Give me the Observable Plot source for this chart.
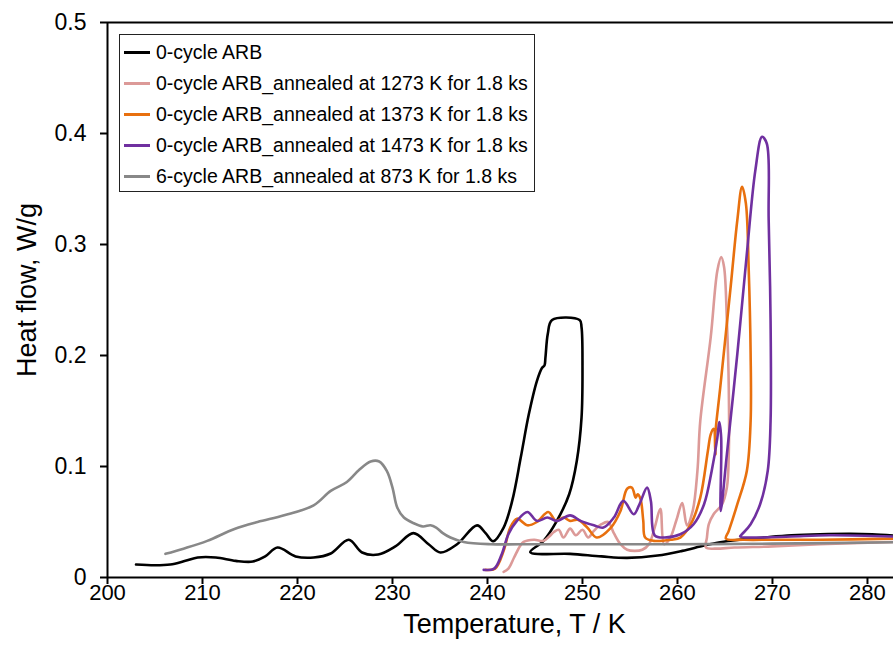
<!DOCTYPE html>
<html><head><meta charset="utf-8">
<script src="https://cdn.jsdelivr.net/npm/d3@7"></script>
<script src="https://cdn.jsdelivr.net/npm/@observablehq/plot@0.6"></script>
<style>
body{margin:0;background:#fff;font-family:"Liberation Sans",Arial,sans-serif;}
#wrap{position:relative;width:893px;height:662px;overflow:hidden;}
#legend{position:absolute;left:119px;top:34px;width:414px;height:156px;border:1.5px solid #222;background:#fff;}
.row{position:absolute;left:0;height:31px;display:flex;align-items:center;font-size:19.5px;color:#000;white-space:nowrap;}
.sw{width:26px;height:3px;margin-left:4px;margin-right:6px;}
</style></head><body><div id="wrap"><div id="chart"></div><div id="legend"></div></div>
<script>
// ---- data ----
const seriesNames = [
  "0-cycle ARB",
  "0-cycle ARB_annealed at 1273 K for 1.8 ks",
  "0-cycle ARB_annealed at 1373 K for 1.8 ks",
  "0-cycle ARB_annealed at 1473 K for 1.8 ks",
  "6-cycle ARB_annealed at 873 K for 1.8 ks"
];
const seriesColors = ["#000000", "#dc9a98", "#e8700e", "#7030a0", "#888888"];

const arbT = [203.0,205.0,206.6,208.2,209.5,211.4,213.5,215.3,216.6,217.9,219.8,221.7,223.5,225.4,226.8,228.5,230.3,232.2,233.8,235.05,236.8,238.9,239.8,240.6,241.7,242.6,243.5,244.35,245.2,245.75,246.0,246.1,246.35,246.8,249.7,249.9,250.0,249.9,249.4,248.6,247.3,245.9,244.5,248.7,252.0,254.7,257.9,260.5,262.8,264.5,266.5,269.4,272.0,275.0,278.2,280.5,282.7];
const arbH = [0.0117,0.011,0.0117,0.015,0.018,0.018,0.015,0.0144,0.019,0.027,0.019,0.018,0.0216,0.034,0.0225,0.0207,0.028,0.040,0.030,0.0225,0.030,0.047,0.040,0.0327,0.045,0.069,0.108,0.147,0.177,0.189,0.191,0.198,0.2196,0.232,0.232,0.2255,0.189,0.144,0.105,0.075,0.051,0.033,0.0228,0.0213,0.019,0.0177,0.0198,0.024,0.0288,0.0318,0.034,0.0363,0.038,0.039,0.0394,0.039,0.0378];

const a1273T = [241.7,242.2,242.8,243.4,243.8,244.9,245.9,246.5,247.0,247.5,248.0,248.7,249.3,250.0,250.6,251.2,252.0,252.7,253.3,254.0,254.7,255.5,256.3,257.0,257.6,258.2,258.6,259.2,259.9,260.5,261.0,261.6,262.1,262.4,263.5,264.2,264.6,264.9,265.2,265.4,265.4,265.2,264.7,263.8,263.3,263.1,263.0,264.0,266.0,270.0,275.0,282.7];
const a1273H = [0.005,0.008,0.018,0.028,0.032,0.034,0.033,0.037,0.041,0.043,0.036,0.044,0.038,0.043,0.036,0.042,0.048,0.050,0.040,0.030,0.025,0.024,0.025,0.030,0.045,0.062,0.030,0.035,0.052,0.067,0.047,0.060,0.096,0.141,0.2165,0.2766,0.2886,0.280,0.2315,0.171,0.111,0.081,0.066,0.057,0.048,0.036,0.027,0.026,0.027,0.028,0.030,0.032];

const a1373T = [239.8,240.8,241.7,242.4,243.1,244.2,245.2,246.4,247.2,248.0,248.7,249.5,250.5,251.5,252.9,254.0,254.7,255.2,255.6,255.8,256.1,256.4,256.6,257.5,259.3,260.3,261.4,262.4,263.2,263.5,263.8,264.0,263.95,264.5,265.6,266.3,266.8,267.2,267.5,267.7,267.7,267.3,266.3,265.4,265.1,267.0,270.0,275.0,282.7];
const a1373H = [0.0069,0.008,0.024,0.045,0.053,0.047,0.050,0.059,0.051,0.054,0.051,0.052,0.045,0.036,0.044,0.060,0.080,0.081,0.072,0.075,0.071,0.051,0.036,0.033,0.034,0.036,0.048,0.072,0.114,0.129,0.134,0.111,0.125,0.171,0.262,0.322,0.352,0.337,0.277,0.2015,0.141,0.096,0.066,0.042,0.035,0.034,0.034,0.034,0.035];

const a1473T = [239.6,240.7,241.5,242.2,243.1,244.2,245.2,246.3,247.3,248.7,249.8,251.2,252.2,253.3,254.3,255.4,256.0,256.8,257.2,257.6,258.6,260.3,261.7,262.8,263.6,264.2,264.4,264.6,264.55,265.2,266.3,267.3,268.2,268.9,269.4,269.6,269.8,269.8,269.5,268.7,267.7,266.8,266.6,268.0,272.0,276.0,282.7];
const a1473H = [0.0069,0.008,0.021,0.039,0.051,0.059,0.051,0.054,0.051,0.056,0.051,0.047,0.045,0.054,0.069,0.057,0.066,0.081,0.069,0.038,0.036,0.039,0.048,0.066,0.096,0.126,0.140,0.126,0.060,0.111,0.2015,0.2915,0.367,0.397,0.391,0.322,0.2315,0.141,0.096,0.066,0.048,0.039,0.037,0.036,0.037,0.038,0.037];

const c6T = [206.1,208.0,210.5,213.3,215.8,218.6,221.7,223.5,225.2,226.5,227.7,228.6,229.4,230.0,230.5,231.2,232.2,233.2,234.0,234.6,235.3,236.1,237.5,240.3,245.0,250.0,260.0,270.0,282.7];
const c6H = [0.0213,0.026,0.033,0.0435,0.050,0.056,0.065,0.078,0.086,0.097,0.1045,0.1045,0.096,0.081,0.063,0.054,0.049,0.046,0.047,0.045,0.040,0.036,0.032,0.030,0.030,0.030,0.030,0.0305,0.0318];

const xTicks = [200,210,220,230,240,250,260,270,280];
const yTicks = [0,0.1,0.2,0.3,0.4,0.5];
const xTitle = "Temperature, T / K";
const yTitle = "Heat flow, W/g";

// ---- build ----
const seriesT = [arbT, a1273T, a1373T, a1473T, c6T];
const seriesH = [arbH, a1273H, a1373H, a1473H, c6H];
const tables = seriesT.map((Ts, k) => Ts.map((t, i) => ({T: t, H: seriesH[k][i]})));

const chart = Plot.plot({
  width: 893, height: 662,
  marginLeft: 107, marginRight: 0, marginTop: 22, marginBottom: 85,
  x: {domain: [200, 282.74]},
  y: {domain: [0, 0.5]},
  style: {fontFamily: "'Liberation Sans', Arial, sans-serif", color: "#000", background: "#fff", overflow: "hidden"},
  marks: [
    ...tables.map((tb, k) => Plot.line(tb, {x: "T", y: "H", stroke: seriesColors[k], strokeWidth: 2.6, curve: "catmull-rom", clip: true})),
    Plot.ruleY([0.5], {stroke: "#000", strokeWidth: 2}),
    Plot.axisX({ticks: xTicks, tickSize: 7, tickPadding: 0, fontSize: 22, strokeWidth: 2, label: null, tickFormat: d => String(d)}),
    Plot.axisY({ticks: yTicks, tickSize: 7, tickPadding: 14, fontSize: 23, strokeWidth: 2, label: null, tickFormat: d => d === 0 ? "0" : d.toFixed(1)}),
    Plot.ruleX([200], {stroke: "#000", strokeWidth: 2}),
    Plot.ruleY([0], {stroke: "#000", strokeWidth: 2}),
    Plot.text([xTitle], {frameAnchor: "bottom", dy: 55, dx: 14, fontSize: 27, text: d => d, fill: "#000"}),
    Plot.text([yTitle], {frameAnchor: "left", textAnchor: "middle", rotate: -90, dx: -80, dy: -10, fontSize: 27, text: d => d, fill: "#000"})
  ]
});
document.getElementById("chart").appendChild(chart);

const leg = document.getElementById("legend");
seriesNames.forEach((name, k) => {
  const row = document.createElement("div");
  row.className = "row";
  row.style.top = (2 + k * 31.1) + "px";
  const sw = document.createElement("div");
  sw.className = "sw";
  sw.style.background = seriesColors[k];
  const tx = document.createElement("span");
  tx.textContent = name;
  row.appendChild(sw); row.appendChild(tx);
  leg.appendChild(row);
});
</script></body></html>
